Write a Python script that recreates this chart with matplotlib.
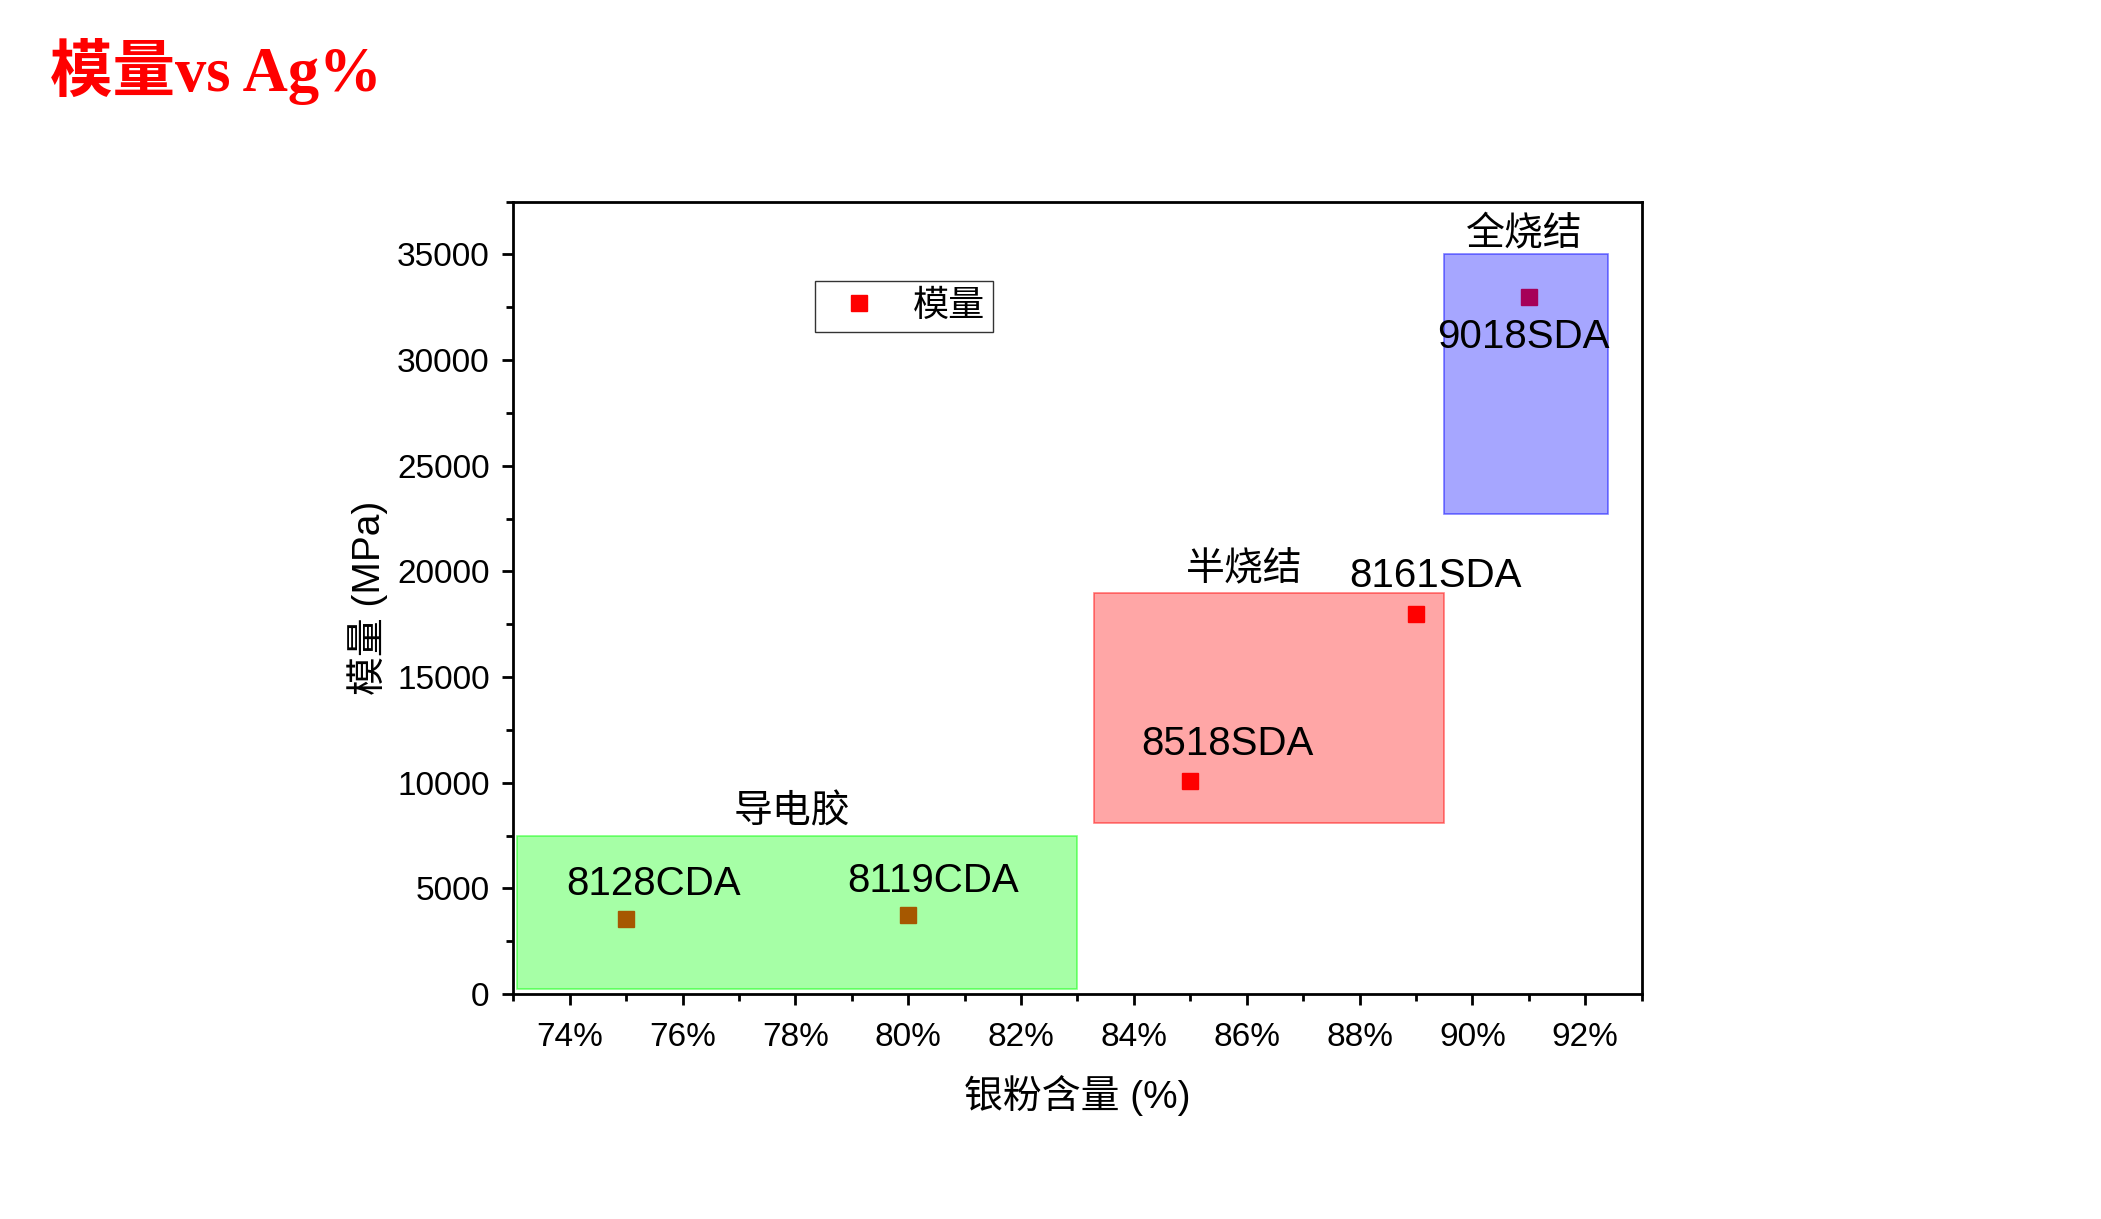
import matplotlib
matplotlib.use("Agg")
import matplotlib.pyplot as plt
from matplotlib.patches import Rectangle
from matplotlib.ticker import MultipleLocator, FuncFormatter
from matplotlib.colors import to_rgba


# silver content (%) and modulus (MPa) of each product
products = ["8128CDA", "8119CDA", "8518SDA", "8161SDA", "9018SDA"]
ag_pct = [75, 80, 85, 89, 91]
modulus = [3550, 3750, 10100, 18000, 33000]

# shaded groups: (x0, x1, y0, y1)
groups = ["导电胶", "半烧结", "全烧结"]
group_x0 = [73.07, 83.3, 89.5]
group_x1 = [83.0, 89.5, 92.4]
group_y0 = [250, 8100, 22700]
group_y1 = [7500, 19000, 35000]
group_colors = ["#00ff00", "#ff0000", "#0000ff"]

# label offsets in points (dx, dy) from each marker
label_off = [(20, 25), (18, 24), (27, 26), (14, 27), (-4, -29)]
group_label_off = [(-4, 17), (-18, 16), (-1, 14)]

SANS = ["Liberation Sans", "Noto Sans CJK SC"]

fig = plt.figure(figsize=(21.01, 12.19), dpi=100)
ax = fig.add_axes([0.2443, 0.1846, 0.5371, 0.650])

ax.plot(ag_pct, modulus, "s", color="red", markersize=11, label="模量",
        zorder=2)

for g, x0, x1, y0, y1, c, off in zip(groups, group_x0, group_x1, group_y0,
                                      group_y1, group_colors, group_label_off):
    rect = Rectangle((x0, y0), x1 - x0, y1 - y0,
                     facecolor=to_rgba(c, 0.35), edgecolor=to_rgba(c, 0.5),
                     linewidth=1.2, zorder=3)
    ax.add_patch(rect)
    ax.annotate(g, ((x0 + x1) / 2, y1), xytext=off, textcoords="offset points",
                ha="center", va="center", fontsize=28, family=SANS,
                fontweight="light", zorder=4)

for name, x, y, off in zip(products, ag_pct, modulus, label_off):
    ax.annotate(name, (x, y), xytext=off, textcoords="offset points",
                ha="center", va="center", fontsize=29, family=SANS, zorder=4)

ax.set_xlim(73, 93)
ax.set_ylim(0, 37500)
ax.xaxis.set_major_locator(MultipleLocator(2))
ax.xaxis.set_minor_locator(MultipleLocator(1))
ax.yaxis.set_major_locator(MultipleLocator(5000))
ax.yaxis.set_minor_locator(MultipleLocator(2500))
ax.xaxis.set_major_formatter(FuncFormatter(lambda v, p: f"{v:.0f}%"))

for s in ax.spines.values():
    s.set_linewidth(2)
ax.tick_params(which="major", direction="out", length=8, width=2, pad=9,
               labelsize=24)
ax.tick_params(axis="x", which="major", pad=12)
ax.tick_params(which="minor", direction="out", length=5, width=2)
for lab in ax.get_xticklabels() + ax.get_yticklabels():
    lab.set_family(SANS)

ax.set_xlabel("银粉含量 (%)", fontsize=28, family=SANS, va="center")
ax.set_ylabel("模量 (MPa)", fontsize=28, family=SANS, va="center")
ax.xaxis.set_label_coords(0.5, -0.128)
ax.yaxis.set_label_coords(-0.129, 0.5)

leg = ax.legend(loc="upper left", bbox_to_anchor=(0.267, 0.9),
                prop={"family": SANS, "size": 26}, frameon=True,
                fancybox=False, edgecolor="black", borderaxespad=0,
                handletextpad=0.5, borderpad=0.22, markerscale=1.0)
leg.get_frame().set_linewidth(1)

fig.text(0.024, 0.925, "模量vs Ag%", color="red", fontsize=45,
         fontweight="bold", family=["Liberation Serif", "Noto Sans CJK SC"],
         ha="left", va="baseline")

fig.savefig("out.png", dpi=100)
